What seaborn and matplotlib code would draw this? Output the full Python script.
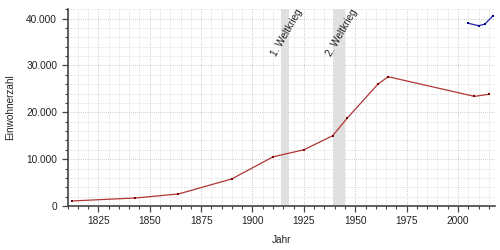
import matplotlib
matplotlib.use("Agg")
import matplotlib.pyplot as plt
import matplotlib.ticker as mticker
import seaborn as sns
import pandas as pd

# Data
years_a = [1812, 1843, 1864, 1890, 1910, 1925, 1939, 1946, 1961, 1966, 2008, 2015]
pop_a = [1070, 1710, 2570, 5790, 10500, 12000, 15000, 18700, 26000, 27600, 23400, 23850]
years_b = [2005, 2010, 2013, 2017]
pop_b = [39000, 38500, 38800, 40600]
wars = [(1914, 1918, "1. Weltkrieg"), (1939, 1945, "2. Weltkrieg")]
x_ticks = [1825, 1850, 1875, 1900, 1925, 1950, 1975, 2000]
y_ticks = [0, 10000, 20000, 30000, 40000]

sns.set_theme(style="white")
plt.rcParams["font.family"] = ["Liberation Sans", "DejaVu Sans"]

fig = plt.figure(figsize=(5, 2.5), dpi=100)
ax = fig.add_axes([0.135, 0.176, 0.855, 0.787])

df_a = pd.DataFrame({"Jahr": years_a, "Einwohnerzahl": pop_a})
df_b = pd.DataFrame({"Jahr": years_b, "Einwohnerzahl": pop_b})

for s, e, lab in wars:
    ax.axvspan(s, e, color="#e0e0e0", zorder=1, lw=0)
    ax.text(e + 7, 42300, lab, rotation=60, ha="right", va="top",
            fontsize=7.2, color="#222222", zorder=5)

sns.lineplot(data=df_a, x="Jahr", y="Einwohnerzahl", ax=ax, color="#b03535",
             lw=0.9, marker="s", markersize=1.6, markeredgewidth=0,
             markerfacecolor="#7a0000", zorder=4)
sns.lineplot(data=df_b, x="Jahr", y="Einwohnerzahl", ax=ax, color="#2020b0",
             lw=0.9, marker="s", markersize=1.6, markeredgewidth=0,
             markerfacecolor="#000080", zorder=4)

ax.set_xlim(1810, 2018)
ax.set_ylim(0, 42000)
ax.set_xticks(x_ticks)
ax.set_yticks(y_ticks)
ax.xaxis.set_minor_locator(mticker.MultipleLocator(5))
ax.yaxis.set_minor_locator(mticker.MultipleLocator(2000))
ax.yaxis.set_major_formatter(mticker.FuncFormatter(lambda v, p: f"{int(v):,}".replace(",", ".")))

ax.grid(which="major", color="#bdbdbd", linestyle=(0, (1, 1.5)), lw=0.6, zorder=0)
ax.grid(which="minor", color="#ececec", linestyle="-", lw=0.6, zorder=0)
ax.set_axisbelow(True)

for sp in ["top", "right"]:
    ax.spines[sp].set_visible(False)
for sp in ["left", "bottom"]:
    ax.spines[sp].set_color("#444444")
    ax.spines[sp].set_linewidth(1.2)

ax.tick_params(which="major", direction="out", length=4.5, width=0.9, color="#444444",
               labelsize=7.3, labelcolor="#222222", left=True, bottom=True, pad=3)
ax.tick_params(which="minor", direction="out", length=2.5, width=0.8, color="#444444",
               left=True, bottom=True)

ax.set_xlabel("Jahr", fontsize=7.2, color="#222222", labelpad=6)
ax.set_ylabel("Einwohnerzahl", fontsize=7.2, color="#222222", labelpad=8)

fig.savefig("out.png", dpi=100)
